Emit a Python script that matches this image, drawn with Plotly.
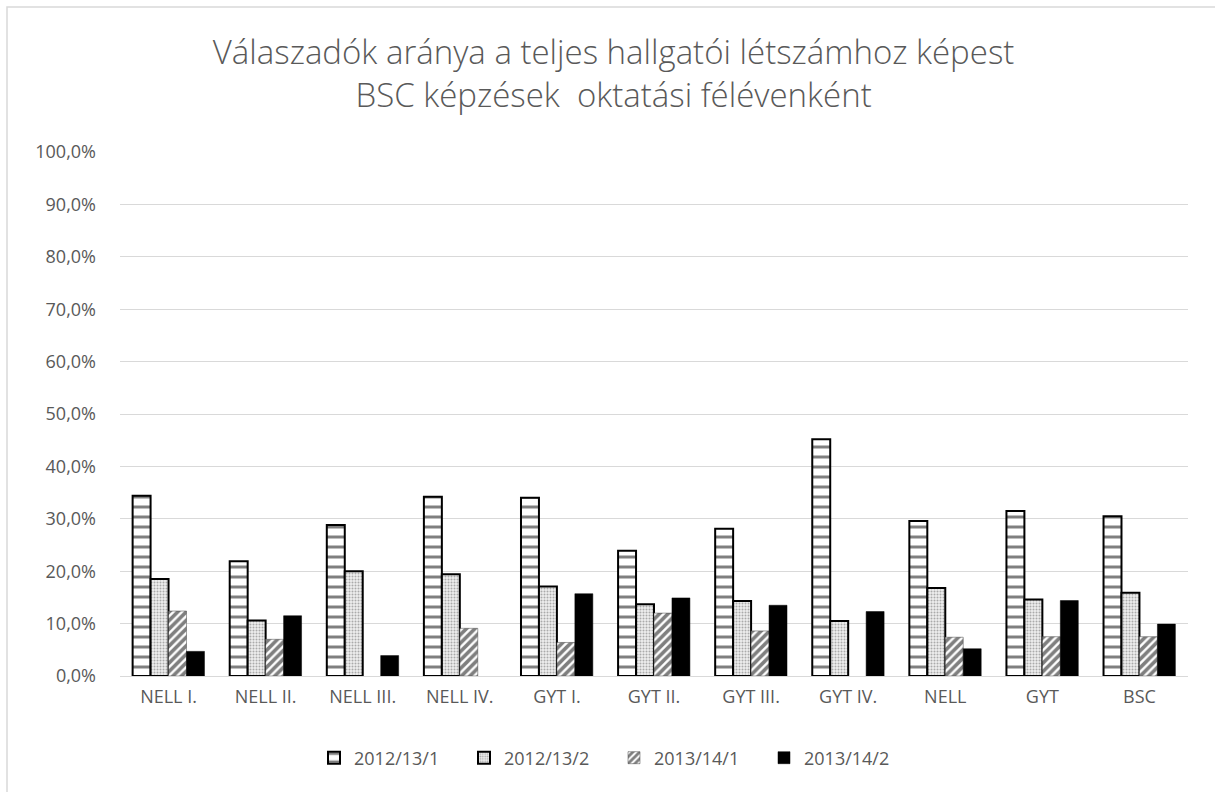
import plotly.graph_objects as go

categories = ["NELL I.", "NELL II.", "NELL III.", "NELL IV.", "GYT I.", "GYT II.",
              "GYT III.", "GYT IV.", "NELL", "GYT", "BSC"]
series_names = ["2012/13/1", "2012/13/2", "2013/14/1", "2013/14/2"]
s2012_13_1 = [34.4, 21.9, 28.8, 34.2, 34.0, 23.9, 28.1, 45.2, 29.6, 31.5, 30.5]
s2012_13_2 = [18.5, 10.6, 20.0, 19.4, 17.1, 13.7, 14.3, 10.5, 16.8, 14.6, 15.9]
s2013_14_1 = [12.4, 7.0, None, 9.1, 6.4, 12.0, 8.6, None, 7.4, 7.5, 7.5]
s2013_14_2 = [4.7, 11.5, 3.9, None, 15.7, 14.9, 13.5, 12.3, 5.2, 14.4, 9.9]
tick_vals = [0, 10, 20, 30, 40, 50, 60, 70, 80, 90, 100]
tick_text = ["0,0%", "10,0%", "20,0%", "30,0%", "40,0%", "50,0%", "60,0%",
             "70,0%", "80,0%", "90,0%", "100,0%"]
title_lines = ["Válaszadók aránya a teljes hallgatói létszámhoz képest",
               "BSC képzések  oktatási félévenként"]

FONT = "Open Sans"
GRAY = "#595959"

fig = go.Figure()
fig.add_trace(go.Bar(
    name=series_names[0], x=categories, y=s2012_13_1,
    marker=dict(color="white", line=dict(color="black", width=2),
                pattern=dict(shape="-", fgcolor="black", bgcolor="white",
                             size=10, solidity=0.3)),
))
fig.add_trace(go.Bar(
    name=series_names[1], x=categories, y=s2012_13_2,
    marker=dict(color="white", line=dict(color="black", width=2),
                pattern=dict(shape=".", fgcolor="#666666", bgcolor="#eeeeee",
                             size=3, solidity=0.35)),
))
fig.add_trace(go.Bar(
    name=series_names[2], x=categories, y=s2013_14_1,
    marker=dict(color="white", line=dict(color="#444444", width=0.5),
                pattern=dict(shape="/", fgcolor="black", bgcolor="white",
                             size=6, solidity=0.6)),
))
fig.add_trace(go.Bar(
    name=series_names[3], x=categories, y=s2013_14_2,
    marker=dict(color="black", line=dict(color="black", width=0.5)),
))

W, H = 1215, 792
L, R, T, B = 120, 27, 152, 116
pw, ph = W - L - R, H - T - B

fig.update_layout(
    width=W, height=H,
    margin=dict(l=L, r=R, t=T, b=B),
    paper_bgcolor="white", plot_bgcolor="white",
    barmode="group", bargap=0.26, bargroupgap=0.0,
    font=dict(family=FONT, color=GRAY),
    title=dict(text="<br>".join(title_lines), x=0.505, xanchor="center",
               yref="container", y=1 - 64 / H, yanchor="top",
               font=dict(family=FONT, size=33, color=GRAY, weight=300)),
    xaxis=dict(showgrid=False, showline=False, ticks="", ticklabelstandoff=8,
               tickfont=dict(family=FONT, size=18, color=GRAY)),
    yaxis=dict(range=[0, 100], tickvals=tick_vals, ticktext=tick_text,
               showgrid=True, gridcolor="#d9d9d9", gridwidth=1,
               zeroline=True, zerolinecolor="#d9d9d9", zerolinewidth=1,
               showline=False, ticks="", ticklabelstandoff=23,
               tickfont=dict(family=FONT, size=18, color=GRAY)),
    legend=dict(orientation="h", x=(314 - L) / pw, xanchor="left",
                y=-(758 - (T + ph)) / ph, yanchor="middle",
                font=dict(family=FONT, size=18, color=GRAY),
                itemwidth=30, entrywidth=105, entrywidthmode="pixels",
                traceorder="normal"),
    showlegend=True,
)

# outer chart border
fig.add_shape(type="rect", xref="paper", yref="paper",
              x0=(7 - L) / pw, x1=(W + 5 - L) / pw,
              y0=-(B + 5) / ph, y1=1 + (T - 7) / ph,
              line=dict(color="#d9d9d9", width=1.5), fillcolor="rgba(0,0,0,0)",
              layer="below")

fig.write_html("out.html", config={"displayModeBar": False},
               post_script="document.body.style.margin='0';")
